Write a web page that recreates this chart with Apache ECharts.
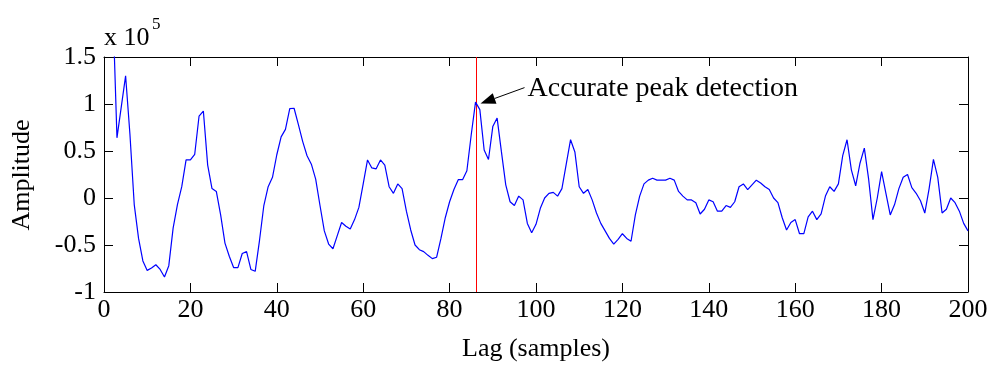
<!DOCTYPE html>
<html><head><meta charset="utf-8">
<script src="https://cdn.jsdelivr.net/npm/echarts@6/dist/echarts.min.js"></script>
<style>html,body{margin:0;padding:0;background:#fff}#c{width:991px;height:365px}</style>
</head><body><div id="c"></div>
<script>
// ---- data (amplitude in units of 10^5, one value per lag 0..200) ----
const lagFirst = 0;
const amplitudeE5 = [
 6.0, 4.0, 2.1, 0.64, 0.97, 1.30, 0.68, -0.07, -0.43, -0.67,
 -0.77, -0.745, -0.71, -0.76, -0.84, -0.72, -0.32, -0.07, 0.12, 0.405,
 0.405, 0.465, 0.87, 0.925, 0.35, 0.10, 0.07, -0.18, -0.48, -0.62,
 -0.74, -0.74, -0.59, -0.57, -0.76, -0.78, -0.45, -0.08, 0.12, 0.22,
 0.46, 0.65, 0.73, 0.95, 0.955, 0.78, 0.60, 0.45, 0.36, 0.20,
 -0.08, -0.35, -0.49, -0.54, -0.40, -0.26, -0.30, -0.33, -0.23, -0.10,
 0.15, 0.405, 0.32, 0.31, 0.405, 0.35, 0.12, 0.05, 0.15, 0.10,
 -0.14, -0.34, -0.50, -0.55, -0.57, -0.61, -0.645, -0.63, -0.43, -0.21,
 -0.04, 0.09, 0.195, 0.195, 0.29, 0.67, 1.02, 0.94, 0.51, 0.41,
 0.76, 0.85, 0.49, 0.14, -0.04, -0.08, 0.02, -0.02, -0.27, -0.37,
 -0.28, -0.11, 0.0, 0.05, 0.06, 0.02, 0.10, 0.36, 0.62, 0.49,
 0.12, 0.05, 0.09, -0.02, -0.16, -0.27, -0.35, -0.43, -0.49, -0.44,
 -0.38, -0.43, -0.46, -0.18, 0.02, 0.15, 0.19, 0.21, 0.19, 0.19,
 0.19, 0.21, 0.19, 0.07, 0.02, -0.02, -0.02, -0.05, -0.17, -0.12,
 -0.02, -0.04, -0.14, -0.14, -0.08, -0.10, -0.04, 0.12, 0.15, 0.09,
 0.14, 0.19, 0.16, 0.12, 0.09, 0.0, -0.05, -0.21, -0.34, -0.26,
 -0.23, -0.38, -0.38, -0.20, -0.14, -0.23, -0.17, 0.02, 0.12, 0.07,
 0.15, 0.45, 0.62, 0.30, 0.13, 0.37, 0.53, 0.20, -0.23, 0.0,
 0.28, 0.05, -0.18, -0.07, 0.10, 0.22, 0.25, 0.11, 0.05, -0.03,
 -0.16, 0.10, 0.41, 0.22, -0.16, -0.12, 0.0, -0.05, -0.14, -0.27,
 -0.35
];
const xAxisRange = [0, 200];
const xTickStep = 20;
const yAxisRange = [-1, 1.5];
const yTickStep = 0.5;
const peakLag = 86;
const scaleBase = 'x 10';
const scaleExponent = '5';
const annotationText = 'Accurate peak detection';
const xAxisTitle = 'Lag (samples)';
const yAxisTitle = 'Amplitude';

// ---- chart ----
const FONT = '"Liberation Serif", "Times New Roman", serif';
const seriesData = amplitudeE5.map((v, i) => [lagFirst + i, v]);
const chart = echarts.init(document.getElementById('c'), null, {renderer: 'canvas'});

function axisCommon(pos, range, step, showLabel) {
  return {
    type: 'value', position: pos, min: range[0], max: range[1], interval: step,
    axisLine: {show: true, onZero: false, lineStyle: {color: '#000', width: 1}},
    axisTick: {show: true, inside: true, length: 9, lineStyle: {color: '#000', width: 1}},
    axisLabel: {show: showLabel, color: '#000', fontFamily: FONT, fontSize: 26,
      margin: (pos === 'left' || pos === 'right') ? 8 : 5},
    splitLine: {show: false}
  };
}

chart.setOption({
  animation: false,
  backgroundColor: '#fff',
  grid: {left: 104, right: 23, top: 57, bottom: 73, show: false},
  xAxis: [axisCommon('bottom', xAxisRange, xTickStep, true), axisCommon('top', xAxisRange, xTickStep, false)],
  yAxis: [axisCommon('left', yAxisRange, yTickStep, true), axisCommon('right', yAxisRange, yTickStep, false)],
  series: [
    {type: 'line', data: seriesData, showSymbol: false, clip: true, z: 3,
      lineStyle: {color: '#0000ff', width: 1.2}, itemStyle: {color: '#0000ff'}}
  ]
});

const conv = p => chart.convertToPixel({xAxisIndex: 0, yAxisIndex: 0}, p);
const redTop = conv([peakLag, yAxisRange[1]]);
const redBot = conv([peakLag, yAxisRange[0]]);
const peakPx = conv([peakLag, amplitudeE5[peakLag - lagFirst]]);
const tip = [peakPx[0] + 5, peakPx[1] + 1.5];
const tail = [tip[0] + 44, tip[1] - 16];
const dx = tail[0] - tip[0], dy = tail[1] - tip[1];
const L = Math.sqrt(dx * dx + dy * dy);
const ux = dx / L, uy = dy / L;
const headLen = 15, headHalf = 5.5;
const base = [tip[0] + ux * headLen, tip[1] + uy * headLen];
const c1 = [base[0] - uy * headHalf, base[1] + ux * headHalf];
const c2 = [base[0] + uy * headHalf, base[1] - ux * headHalf];

chart.setOption({
  graphic: [
    {type: 'line', z: 1, shape: {x1: Math.round(redTop[0]) + 0.5, y1: redTop[1], x2: Math.round(redBot[0]) + 0.5, y2: redBot[1]},
      style: {stroke: '#ff0000', lineWidth: 1}},
    {type: 'line', shape: {x1: base[0], y1: base[1], x2: tail[0], y2: tail[1]},
      style: {stroke: '#000', lineWidth: 1}},
    {type: 'polygon', shape: {points: [tip, c1, c2]}, style: {fill: '#000'}},
    {type: 'text', x: tail[0] + 3, y: tail[1] + 1,
      style: {text: annotationText, font: '28px ' + FONT, fill: '#000', textAlign: 'left', textVerticalAlign: 'middle'}},
    {type: 'text', x: 104, y: 38,
      style: {text: scaleBase, font: '26px ' + FONT, fill: '#000', textAlign: 'left', textVerticalAlign: 'middle'}},
    {type: 'text', x: 152, y: 25,
      style: {text: scaleExponent, font: '17px ' + FONT, fill: '#000', textAlign: 'left', textVerticalAlign: 'middle'}},
    {type: 'text', x: 536, y: 349,
      style: {text: xAxisTitle, font: '26px ' + FONT, fill: '#000', textAlign: 'center', textVerticalAlign: 'middle'}},
    {type: 'text', x: 22, y: 175, rotation: Math.PI / 2,
      style: {text: yAxisTitle, font: '26px ' + FONT, fill: '#000', textAlign: 'center', textVerticalAlign: 'middle'}}
  ]
});
</script>
</body></html>
